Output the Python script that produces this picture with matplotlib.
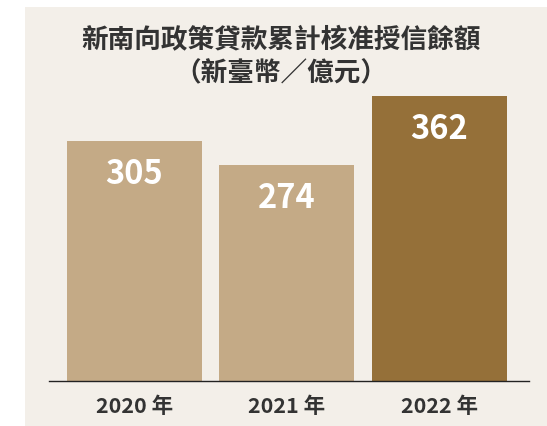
import matplotlib
matplotlib.use("Agg")
import matplotlib.pyplot as plt
from matplotlib.patches import Rectangle

years = ["2020 年", "2021 年", "2022 年"]
values = [305, 274, 362]
bar_colors = ["#c4aa86", "#c4aa86", "#957039"]
title_line1 = "新南向政策貸款累計核准授信餘額"
title_line2 = "（新臺幣／億元）"

plt.rcParams['font.family'] = ['Noto Sans CJK TC', 'DejaVu Sans']

W, H = 547, 426
fig = plt.figure(figsize=(W / 100, H / 100), dpi=100)
fig.patch.set_facecolor("white")
bg = Rectangle((25 / W, 0), (W - 25) / W, (H - 7) / H,
               transform=fig.transFigure, facecolor="#f3efe9",
               edgecolor="none", zorder=-10)
fig.add_artist(bg)

ax_left, ax_right = 49.3, 529.3
ax_bottom, ax_top = 381, 93
ax = fig.add_axes([ax_left / W, (H - ax_bottom) / H,
                   (ax_right - ax_left) / W, (ax_bottom - ax_top) / H])
ax.set_facecolor("none")
ax.set_zorder(1)

x = list(range(len(values)))
ax.bar(x, values, width=0.885, color=bar_colors, zorder=2)
ax.set_xlim(-0.557, 2.59)
ax.set_ylim(0, 366)

for xi, v in zip(x, values):
    ax.annotate(str(v), xy=(xi, v), xytext=(0, -23.8), textcoords="offset points",
                ha="center", va="center", color="white", fontsize=23.5,
                fontweight="bold", zorder=3)

for s in ["top", "right", "left"]:
    ax.spines[s].set_visible(False)
ax.spines["bottom"].set_color("#222222")
ax.spines["bottom"].set_linewidth(1.0)
ax.set_yticks([])
ax.set_xticks(x, labels=years)
ax.tick_params(axis="x", length=0, pad=11, labelsize=15.5, labelcolor="#333333")
for lbl in ax.get_xticklabels():
    lbl.set_fontweight("bold")

fig.text(281 / W, 1 - 40.5 / H, title_line1, ha="center", va="center",
         fontsize=19.2, fontweight="bold", color="#333333", zorder=2)
fig.text(281 / W, 1 - 74 / H, title_line2, ha="center", va="center",
         fontsize=19.2, fontweight="bold", color="#333333", zorder=2)

fig.savefig("out.png", dpi=100, facecolor=fig.get_facecolor())
